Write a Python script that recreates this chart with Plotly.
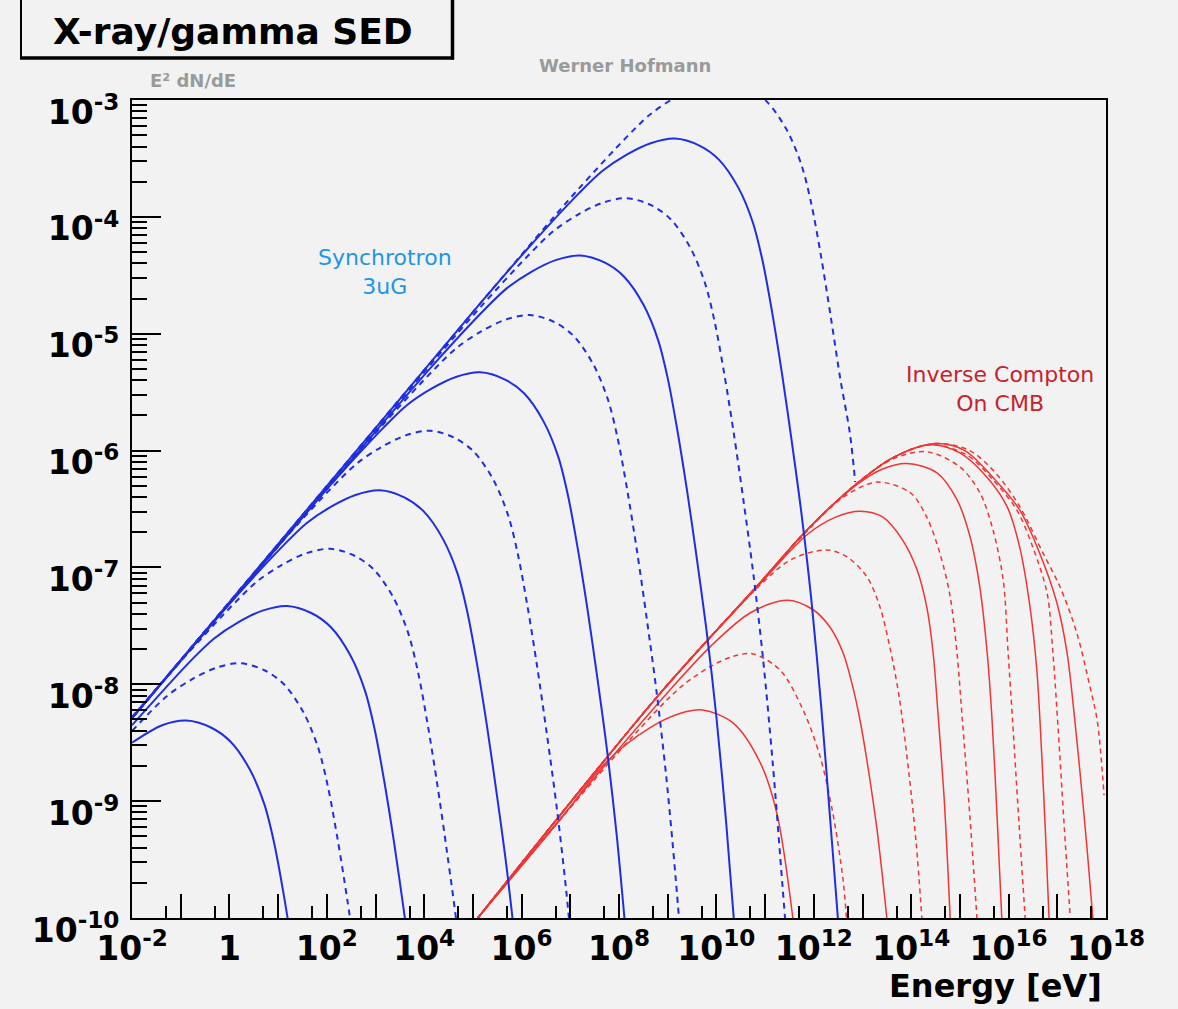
import numpy as np
import plotly.graph_objects as go

# ---------------- data (log10 values) ----------------
# Synchrotron curves (blue), alternating solid / dashed
sync_s1_logE = [-2.00, -1.38, -0.88, -0.38, 0.02, 0.42, 0.72, 0.92, 1.12, 1.32]
sync_s1_logF = [-8.50, -8.35, -8.31, -8.37, -8.49, -8.73, -9.03, -9.36, -9.81, -10.33]
sync_d1_logE = [-2.00, -1.28, -0.78, -0.28, 0.22, 0.72, 1.12, 1.52, 1.82, 2.02, 2.22, 2.42, 2.62]
sync_d1_logF = [-8.40, -8.10, -7.96, -7.86, -7.82, -7.88, -8.00, -8.24, -8.54, -8.87, -9.32, -9.84, -10.42]
sync_s2_logE = [-2.00, -0.82, -0.32, 0.18, 0.68, 1.18, 1.68, 2.08, 2.48, 2.78, 2.98, 3.18, 3.38, 3.58, 3.78]
sync_s2_logF = [-8.35, -7.81, -7.61, -7.47, -7.37, -7.33, -7.39, -7.51, -7.75, -8.05, -8.38, -8.83, -9.35, -9.93, -10.55]
sync_d2_logE = [-2.00, -0.93, 0.07, 0.57, 1.07, 1.57, 2.07, 2.57, 2.97, 3.37, 3.67, 3.87, 4.07, 4.27, 4.47, 4.67, 4.87]
sync_d2_logF = [-8.28, -7.77, -7.32, -7.12, -6.98, -6.88, -6.84, -6.90, -7.02, -7.26, -7.56, -7.89, -8.34, -8.86, -9.44, -10.06, -10.79]
sync_s3_logE = [-2.00, -0.91, 0.09, 1.09, 1.59, 2.09, 2.59, 3.09, 3.59, 3.99, 4.39, 4.69, 4.89, 5.09, 5.29, 5.49, 5.69, 5.89]
sync_s3_logF = [-8.29, -7.75, -7.27, -6.82, -6.62, -6.48, -6.38, -6.34, -6.40, -6.52, -6.76, -7.06, -7.39, -7.84, -8.36, -8.94, -9.56, -10.29]
sync_d3_logE = [-2.00, 0.12, 1.12, 2.12, 2.62, 3.12, 3.62, 4.12, 4.62, 5.02, 5.42, 5.72, 5.92, 6.12, 6.32, 6.52, 6.72, 6.92, 7.12]
sync_d3_logF = [-8.29, -7.24, -6.76, -6.31, -6.11, -5.97, -5.87, -5.83, -5.89, -6.01, -6.25, -6.55, -6.88, -7.33, -7.85, -8.43, -9.05, -9.78, -10.68]
sync_s4_logE = [-2.00, 1.15, 2.15, 3.15, 3.65, 4.15, 4.65, 5.15, 5.65, 6.05, 6.45, 6.75, 6.95, 7.15, 7.35, 7.55, 7.75, 7.95, 8.15]
sync_s4_logF = [-8.29, -6.74, -6.26, -5.81, -5.61, -5.47, -5.37, -5.33, -5.39, -5.51, -5.75, -6.05, -6.38, -6.83, -7.35, -7.93, -8.55, -9.28, -10.18]
sync_d4_logE = [-2.00, 2.17, 3.17, 4.17, 4.67, 5.17, 5.67, 6.17, 6.67, 7.07, 7.47, 7.77, 7.97, 8.17, 8.37, 8.57, 8.77, 8.97, 9.17, 9.37]
sync_d4_logF = [-8.29, -6.25, -5.77, -5.32, -5.12, -4.98, -4.88, -4.84, -4.90, -5.02, -5.26, -5.56, -5.89, -6.34, -6.86, -7.44, -8.06, -8.79, -9.69, -10.74]
sync_s5_logE = [-2.00, 3.20, 4.20, 5.20, 5.70, 6.20, 6.70, 7.20, 7.70, 8.10, 8.50, 8.80, 9.00, 9.20, 9.40, 9.60, 9.80, 10.00, 10.20, 10.40]
sync_s5_logF = [-8.29, -5.74, -5.26, -4.81, -4.61, -4.47, -4.37, -4.33, -4.39, -4.51, -4.75, -5.05, -5.38, -5.83, -6.35, -6.93, -7.55, -8.28, -9.18, -10.23]
sync_d5_logE = [-2.00, 4.16, 5.16, 6.16, 6.66, 7.16, 7.66, 8.16, 8.66, 9.06, 9.46, 9.76, 9.96, 10.16, 10.36, 10.56, 10.76, 10.96, 11.16, 11.36, 11.51]
sync_d5_logF = [-8.29, -5.25, -4.77, -4.32, -4.12, -3.98, -3.88, -3.84, -3.90, -4.02, -4.26, -4.56, -4.89, -5.34, -5.86, -6.44, -7.06, -7.79, -8.69, -9.74, -10.54]
sync_s6_logE = [-2.00, 5.15, 6.15, 7.15, 7.65, 8.15, 8.65, 9.15, 9.65, 10.05, 10.45, 10.75, 10.95, 11.15, 11.35, 11.55, 11.75, 11.95, 12.15, 12.35, 12.50, 12.65]
sync_s6_logF = [-8.29, -4.74, -4.26, -3.81, -3.61, -3.47, -3.37, -3.33, -3.39, -3.51, -3.75, -4.05, -4.38, -4.83, -5.35, -5.93, -6.55, -7.28, -8.18, -9.23, -10.03, -10.93]
sync_d6_logE = [-2.00, 6.15, 7.15, 8.15, 8.65, 9.15, 9.65, 10.15, 10.65, 11.05, 11.45, 11.75, 11.95, 12.15, 12.35, 12.55, 12.74, 12.85]
sync_d6_logF = [-8.29, -4.25, -3.77, -3.32, -3.12, -2.98, -2.88, -2.84, -2.90, -3.02, -3.26, -3.56, -3.89, -4.34, -4.86, -5.40, -5.85, -6.27]

# Inverse Compton on CMB curves (red), alternating solid / dashed
ic_s1_logE = [5.10, 6.79, 7.75, 8.64, 9.25, 9.72, 10.34, 10.90, 11.24, 11.57]
ic_s1_logF = [-10.0, -9.16, -8.66, -8.37, -8.25, -8.22, -8.33, -8.67, -9.10, -10.0]
ic_d1_logE = [5.10, 6.79, 8.25, 9.25, 9.87, 10.35, 10.75, 11.31, 11.78, 12.13, 12.39, 12.60, 12.68]
ic_d1_logF = [-10.0, -9.16, -8.46, -8.03, -7.85, -7.76, -7.74, -7.88, -8.22, -8.62, -9.10, -9.67, -10.05]
ic_s2_logE = [5.10, 7.82, 9.00, 9.87, 10.69, 11.45, 11.98, 12.33, 12.60, 12.80, 12.95, 13.09, 13.30, 13.50]
ic_s2_logF = [-10.0, -8.64, -8.07, -7.68, -7.39, -7.28, -7.36, -7.51, -7.73, -8.02, -8.31, -8.65, -9.25, -10.0]
ic_d2_logE = [5.10, 8.84, 10.90, 11.55, 12.27, 12.68, 13.09, 13.36, 13.56, 13.75, 13.95, 14.10, 14.22]
ic_d2_logF = [-10.0, -8.08, -7.15, -6.93, -6.85, -6.91, -7.08, -7.34, -7.68, -8.10, -8.75, -9.35, -10.0]
ic_s3_logE = [5.10, 8.84, 10.90, 11.86, 12.45, 12.95, 13.42, 13.83, 14.12, 14.32, 14.45, 14.55, 14.68, 14.80]
ic_s3_logF = [-10.0, -8.08, -7.14, -6.72, -6.57, -6.52, -6.57, -6.77, -7.02, -7.34, -7.73, -8.25, -9.00, -10.0]
ic_d3_logE = [5.10, 8.84, 10.90, 11.86, 12.60, 13.30, 13.98, 14.32, 14.59, 14.80, 14.94, 15.05, 15.20, 15.35]
ic_d3_logF = [-10.0, -8.08, -7.13, -6.69, -6.40, -6.27, -6.36, -6.57, -6.88, -7.25, -7.73, -8.30, -9.10, -10.0]
ic_s4_logE = [5.10, 8.84, 10.90, 11.86, 12.89, 13.40, 13.91, 14.53, 14.94, 15.21, 15.41, 15.56, 15.66, 15.76, 15.86]
ic_s4_logF = [-10.0, -8.08, -7.13, -6.68, -6.29, -6.16, -6.11, -6.19, -6.42, -6.74, -7.17, -7.73, -8.30, -9.10, -10.0]
ic_d4_logE = [5.10, 8.84, 10.90, 11.86, 12.89, 13.63, 14.32, 15.00, 15.41, 15.68, 15.89, 15.99, 16.08, 16.20, 16.34]
ic_d4_logF = [-10.0, -8.08, -7.13, -6.68, -6.28, -6.07, -6.01, -6.14, -6.36, -6.68, -7.11, -7.73, -8.30, -9.10, -10.0]
ic_s5_logE = [5.10, 8.84, 10.90, 11.86, 12.89, 13.63, 14.39, 15.00, 15.56, 15.97, 16.23, 16.44, 16.58, 16.68, 16.76, 16.83]
ic_s5_logF = [-10.0, -8.08, -7.13, -6.68, -6.28, -6.06, -5.95, -6.02, -6.23, -6.48, -6.83, -7.34, -7.88, -8.60, -9.30, -10.0]
ic_d5_logE = [5.10, 8.84, 10.90, 11.86, 12.89, 13.63, 14.39, 15.15, 15.68, 16.17, 16.50, 16.79, 16.91, 17.02, 17.14, 17.26]
ic_d5_logF = [-10.0, -8.08, -7.13, -6.68, -6.28, -6.06, -5.95, -6.04, -6.25, -6.51, -6.83, -7.22, -7.73, -8.40, -9.20, -9.96]
ic_s6_logE = [5.10, 8.84, 10.90, 11.86, 12.89, 13.63, 14.49, 15.10, 15.68, 16.23, 16.64, 16.99, 17.20, 17.36, 17.50, 17.62, 17.73]
ic_s6_logF = [-10.0, -8.08, -7.13, -6.68, -6.28, -6.06, -5.94, -6.00, -6.23, -6.51, -6.88, -7.30, -7.73, -8.31, -8.90, -9.45, -10.0]
ic_d6_logE = [5.10, 8.84, 10.90, 11.86, 12.89, 13.63, 14.49, 15.20, 15.75, 16.23, 16.71, 17.06, 17.40, 17.67, 17.82, 17.96]
ic_d6_logF = [-10.0, -8.08, -7.13, -6.68, -6.28, -6.06, -5.94, -6.00, -6.20, -6.48, -6.88, -7.17, -7.56, -8.02, -8.31, -8.95]

sync_curves = [
    (sync_s1_logE, sync_s1_logF, "solid"), (sync_d1_logE, sync_d1_logF, "dash"),
    (sync_s2_logE, sync_s2_logF, "solid"), (sync_d2_logE, sync_d2_logF, "dash"),
    (sync_s3_logE, sync_s3_logF, "solid"), (sync_d3_logE, sync_d3_logF, "dash"),
    (sync_s4_logE, sync_s4_logF, "solid"), (sync_d4_logE, sync_d4_logF, "dash"),
    (sync_s5_logE, sync_s5_logF, "solid"), (sync_d5_logE, sync_d5_logF, "dash"),
    (sync_s6_logE, sync_s6_logF, "solid"), (sync_d6_logE, sync_d6_logF, "dash"),
]
ic_curves = [
    (ic_s1_logE, ic_s1_logF, "solid"), (ic_d1_logE, ic_d1_logF, "dash"),
    (ic_s2_logE, ic_s2_logF, "solid"), (ic_d2_logE, ic_d2_logF, "dash"),
    (ic_s3_logE, ic_s3_logF, "solid"), (ic_d3_logE, ic_d3_logF, "dash"),
    (ic_s4_logE, ic_s4_logF, "solid"), (ic_d4_logE, ic_d4_logF, "dash"),
    (ic_s5_logE, ic_s5_logF, "solid"), (ic_d5_logE, ic_d5_logF, "dash"),
    (ic_s6_logE, ic_s6_logF, "solid"), (ic_d6_logE, ic_d6_logF, "dash"),
]

x_exponents = list(range(-2, 19))
y_exponents = list(range(-10, -2))

# ---------------- figure ----------------
BLUE = "#1e2ee0"
RED = "#ef3535"
FONT = "DejaVu Sans"
BG = "#f2f2f2"

fig = go.Figure()

for le, lf, style in ic_curves:
    fig.add_trace(go.Scatter(
        x=10 ** np.array(le), y=10 ** np.array(lf), mode="lines",
        line=dict(color=RED, width=1.5, dash="5px,4px" if style == "dash" else "solid",
                  shape="spline", smoothing=0.9),
        showlegend=False, hoverinfo="skip"))

for le, lf, style in sync_curves:
    fig.add_trace(go.Scatter(
        x=10 ** np.array(le), y=10 ** np.array(lf), mode="lines",
        line=dict(color=BLUE, width=2, dash="6px,5px" if style == "dash" else "solid",
                  shape="spline", smoothing=0.9),
        showlegend=False, hoverinfo="skip"))


def xlabel(e):
    if e % 2:
        return ""
    if e == 0:
        return "<b>1</b>"
    return f"<b>10<sup>{e}</sup></b>"


fig.update_xaxes(
    type="log", range=[-2, 18],
    tickmode="array", tickvals=[10.0 ** e for e in x_exponents],
    ticktext=[xlabel(e) for e in x_exponents],
    ticks="inside", ticklen=24, tickwidth=2, tickcolor="black",
    minor=dict(tickmode="array", tickvals=[5 * 10.0 ** e for e in x_exponents[:-1]],
               ticks="inside", ticklen=12, tickwidth=2, tickcolor="black", showgrid=False),
    tickfont=dict(family=FONT, size=33, color="black"),
    ticklabelstandoff=0,
    showline=True, linewidth=2, linecolor="black", mirror=True,
    showgrid=False, zeroline=False,
)
fig.update_yaxes(
    type="log", range=[-10, -3],
    tickmode="array", tickvals=[10.0 ** e for e in y_exponents],
    ticktext=[f"<b>10<sup>{e}</sup></b>" for e in y_exponents],
    ticks="inside", ticklen=29, tickwidth=2, tickcolor="black",
    minor=dict(dtick="D1", ticks="inside", ticklen=15, tickwidth=2, tickcolor="black", showgrid=False),
    tickfont=dict(family=FONT, size=33, color="black"),
    ticklabelstandoff=4, ticklabelshift=12,
    showline=True, linewidth=2, linecolor="black", mirror=True,
    showgrid=False, zeroline=False,
)

W, H = 1178, 1009
L, R, T, B = 132, 72, 100, 91
pw, ph = W - L - R, H - T - B


def px(x):
    return (x - L) / pw


def py(y):
    return (H - B - y) / ph


annotations = [
    dict(text="<b>X-ray/gamma SED</b>", x=px(233), y=py(31), font=dict(family=FONT, size=36, color="black")),
    dict(text="<b>E² dN/dE</b>", x=px(193), y=py(80), font=dict(family=FONT, size=18, color="#9a9a9a")),
    dict(text="<b>Werner Hofmann</b>", x=px(625), y=py(66), font=dict(family=FONT, size=18, color="#9a9a9a")),
    dict(text="Synchrotron<br>3uG", x=px(385), y=py(272), font=dict(family=FONT, size=22, color="#1f96e4")),
    dict(text="Inverse Compton<br>On CMB", x=px(1000), y=py(389), font=dict(family=FONT, size=22, color="#c8222a")),
    dict(text="<b>Energy [eV]</b>", x=px(1104), y=py(986), xanchor="right",
         font=dict(family=FONT, size=32, color="black")),
]
for a in annotations:
    a.setdefault("xanchor", "center")
    a.update(xref="paper", yref="paper", yanchor="middle", showarrow=False)

shapes = [
    # title box: thin left edge, heavier right and bottom edges (shadowed frame)
    dict(type="line", xref="paper", yref="paper", x0=px(21), x1=px(21), y0=py(58), y1=py(-10),
         line=dict(color="black", width=2)),
    dict(type="line", xref="paper", yref="paper", x0=px(20), x1=px(454), y0=py(58), y1=py(58),
         line=dict(color="black", width=3.5)),
    dict(type="line", xref="paper", yref="paper", x0=px(452.5), x1=px(452.5), y0=py(59.5), y1=py(-10),
         line=dict(color="black", width=3.5)),
]

fig.update_layout(
    width=W, height=H,
    margin=dict(l=L, r=R, t=T, b=B, pad=0),
    paper_bgcolor=BG, plot_bgcolor=BG,
    font=dict(family=FONT),
    annotations=annotations, shapes=shapes,
    showlegend=False,
)

fig.write_html("out.html")
